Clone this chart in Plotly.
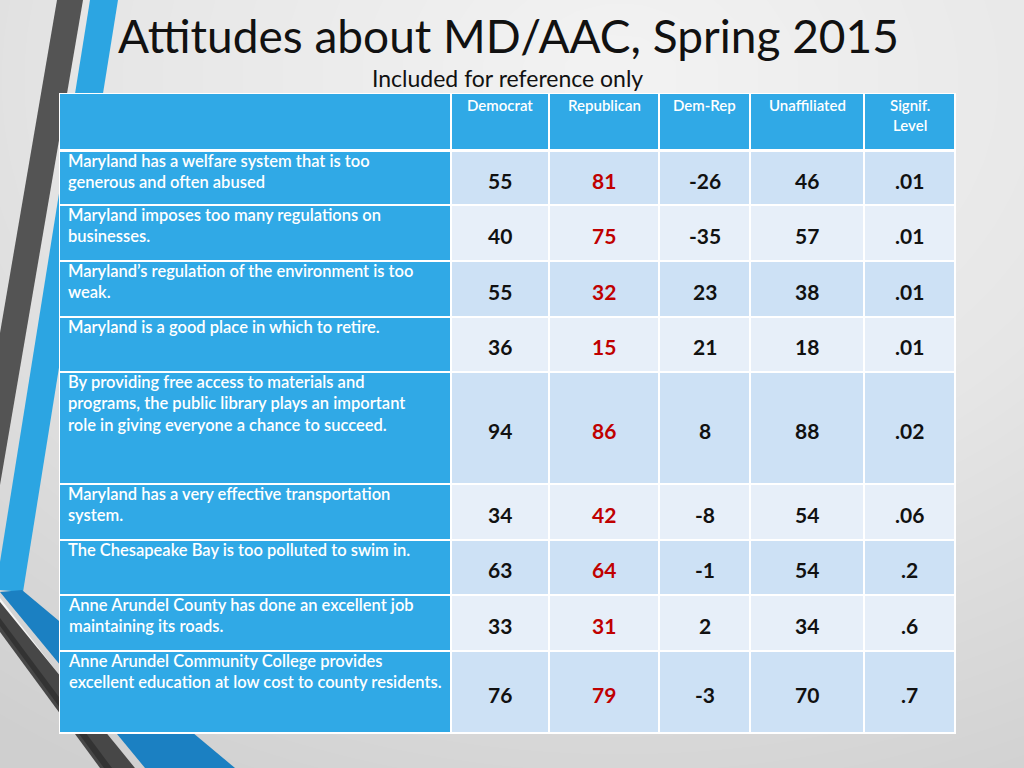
import numpy as np
import plotly.graph_objects as go

# ---------------- data ----------------
title = "Attitudes about MD/AAC, Spring 2015"
subtitle = "Included for reference only"
columns = ["Democrat", "Republican", "Dem-Rep", "Unaffiliated", "Signif.<br>Level"]
statements = [
    "Maryland has a welfare system that is too<br>generous and often abused",
    "Maryland imposes too many regulations on<br>businesses.",
    "Maryland\u2019s regulation of the environment is too<br>weak.",
    "Maryland is a good place in which to retire.",
    "By providing free access to materials and<br>programs, the public library plays an important<br>role in giving everyone a chance to succeed.",
    "Maryland has a very effective transportation<br>system.",
    "The Chesapeake Bay is too polluted to swim in.",
    "Anne Arundel County has done an excellent job<br>maintaining its roads.",
    "Anne Arundel Community College provides<br>excellent education at low cost to county residents.",
]
democrat = [55, 40, 55, 36, 94, 34, 63, 33, 76]
republican = [81, 75, 32, 15, 86, 42, 64, 31, 79]
dem_rep = [-26, -35, 23, 21, 8, -8, -1, 2, -3]
unaffiliated = [46, 57, 38, 18, 88, 54, 54, 34, 70]
signif = [".01", ".01", ".01", ".01", ".02", ".06", ".2", ".6", ".7"]

# ---------------- layout geometry / styles ----------------
W, H = 1024, 768
col_edges = [60, 451, 549, 659, 750, 864, 955]
header_top, header_bot = 94, 149
row_edges = [151, 205, 261, 317, 372, 484, 540, 595, 651, 733]
BLUE = "#30A9E6"
DARK_ROW = "#CDE1F5"
LIGHT_ROW = "#E7EFF9"
RED = "#C00000"
FONT = "Lato"

fig = go.Figure()

# background radial-ish grey gradient
gx = np.linspace(0, W, 33)
gy = np.linspace(0, H, 25)
GX, GY = np.meshgrid(gx, gy)
dist = np.sqrt(((GX - 620) / 900) ** 2 + ((GY - 80) / 700) ** 2)
fig.add_trace(go.Heatmap(
    x=gx, y=gy, z=dist, zsmooth="best", showscale=False, hoverinfo="skip",
    colorscale=[[0, "#F3F3F3"], [0.5, "#E6E6E6"], [1, "#CFCFCF"]],
    zmin=0, zmax=1.15,
))

shapes = []

def poly(pts, color, line=None):
    path = "M " + " L ".join(f"{x},{y}" for x, y in pts) + " Z"
    shapes.append(dict(type="path", path=path, fillcolor=color,
                       line=dict(width=0) if line is None else line,
                       layer="above", xref="x", yref="y"))

# decorative stripes on the left
poly([(57, 0), (83, 0), (0, 485), (0, 333)], "#545454")
poly([(90, 0), (118, 0), (23, 592), (0, 590), (0, 562)], "#2CA5E2")
poly([(0, 592), (22, 590), (235, 768), (145, 768)], "#1B80C2")
poly([(0, 598), (0, 602), (135, 768), (131, 768)], "#F5F5F5")
poly([(0, 602), (135, 768), (100, 768), (0, 632)], "#474747")
poly([(0, 618), (112, 768), (104, 768), (0, 626)], "#333333")

# table background (white grid lines)
shapes.append(dict(type="rect", x0=col_edges[0] - 1, x1=col_edges[-1] + 1,
                   y0=header_top - 1, y1=row_edges[-1] + 1,
                   fillcolor="#FFFFFF", line=dict(width=0), layer="above"))
# header row
shapes.append(dict(type="rect", x0=col_edges[0], x1=col_edges[1] - 1,
                   y0=header_top, y1=header_bot, fillcolor=BLUE,
                   line=dict(width=0), layer="above"))
for j in range(1, len(col_edges) - 1):
    shapes.append(dict(type="rect", x0=col_edges[j] + 1, x1=col_edges[j + 1] - 1,
                       y0=header_top, y1=header_bot, fillcolor=BLUE,
                       line=dict(width=0), layer="above"))
# body rows
for i in range(len(row_edges) - 1):
    y0 = row_edges[i] + 1
    y1 = row_edges[i + 1] - 1
    shapes.append(dict(type="rect", x0=col_edges[0], x1=col_edges[1] - 1,
                       y0=y0, y1=y1, fillcolor=BLUE, line=dict(width=0), layer="above"))
    fill = DARK_ROW if i % 2 == 0 else LIGHT_ROW
    for j in range(1, len(col_edges) - 1):
        shapes.append(dict(type="rect", x0=col_edges[j] + 1, x1=col_edges[j + 1] - 1,
                           y0=y0, y1=y1, fillcolor=fill, line=dict(width=0), layer="above"))

annotations = []
# title & subtitle
annotations.append(dict(text=title, x=508, y=35, xref="x", yref="y", showarrow=False,
                        xanchor="center", yanchor="middle",
                        font=dict(family=FONT, size=46, color="#111111", weight=400)))
annotations.append(dict(text=subtitle, x=507, y=78, xref="x", yref="y", showarrow=False,
                        xanchor="center", yanchor="middle",
                        font=dict(family=FONT, size=23, color="#111111", weight=400)))

# header labels
for j, lab in enumerate(columns):
    cx = (col_edges[j + 1] + col_edges[j + 2]) / 2
    annotations.append(dict(text=lab, x=cx, y=header_top, xref="x", yref="y",
                            showarrow=False, xanchor="center", yanchor="top", align="center",
                            font=dict(family=FONT, size=15, color="#FFFFFF", weight=600)))

# statements
for i, s in enumerate(statements):
    annotations.append(dict(text=s, x=col_edges[0] + 6, y=row_edges[i] - 2, xref="x", yref="y",
                            showarrow=False, xanchor="left", yanchor="top", align="left",
                            font=dict(family=FONT, size=16.5, color="#FFFFFF", weight=600)))

# values
value_cols = [democrat, republican, dem_rep, unaffiliated, signif]
for i in range(len(statements)):
    cy = (row_edges[i] + row_edges[i + 1]) / 2 + 2
    for j, col in enumerate(value_cols):
        cx = (col_edges[j + 1] + col_edges[j + 2]) / 2
        annotations.append(dict(text=str(col[i]), x=cx, y=cy, xref="x", yref="y",
                                showarrow=False, xanchor="center", yanchor="middle",
                                font=dict(family=FONT, size=21,
                                          color=RED if j == 1 else "#111111", weight=700)))

fig.update_layout(
    width=W, height=H, margin=dict(l=0, r=0, t=0, b=0),
    paper_bgcolor="#E6E6E6", plot_bgcolor="#E6E6E6",
    xaxis=dict(range=[0, W], visible=False, fixedrange=True),
    yaxis=dict(range=[H, 0], visible=False, fixedrange=True),
    shapes=shapes, annotations=annotations, showlegend=False,
)

fig.write_html("out.html", config={"displayModeBar": False},
               post_script="document.body.style.margin='0';document.body.style.overflow='hidden';")
